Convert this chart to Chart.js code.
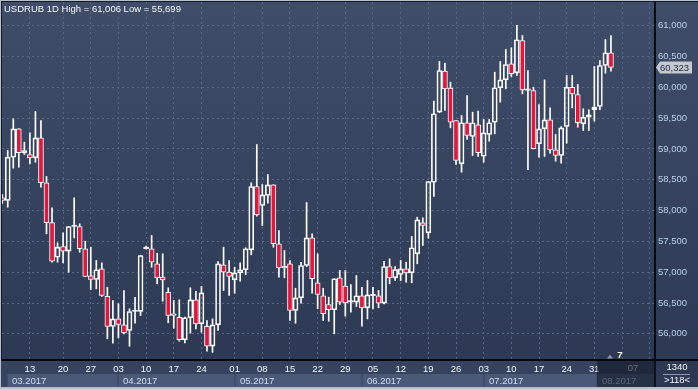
<!DOCTYPE html>
<html>
<head>
<meta charset="utf-8">
<script src="https://cdn.jsdelivr.net/npm/chart.js@4.4.1/dist/chart.umd.min.js"></script>
<style>
  html, body { margin: 0; padding: 0; background: #34415c; }
  #wrap { position: relative; width: 698px; height: 389px; }
</style>
</head>
<body>
<div id="wrap"><canvas id="usdrub" width="698" height="389"></canvas></div>
<script>
// USDRUB daily candles (one entry per trading day)
const opens = [
    58207, 58163, 58866, 59327, 58938, 58910, 58856, 59181, 58451, 57805,
    57243, 57417, 57341, 57741, 57741, 57380, 56941, 56881, 57055, 56610,
    56118, 56243, 56146, 56054, 56362, 56365, 57380, 57380, 57136, 56919,
    56675, 56297, 56269, 55903, 56260, 56552, 56162, 56123, 55799, 56146,
    57120, 57000, 56876, 56990, 57039, 57363, 58391, 58082, 58245, 58418,
    57461, 57071, 57136, 56378, 56584, 57109, 57558, 56828, 56617, 56476,
    56390, 56909, 56773, 56513, 56513, 56617, 56422, 56617, 56617, 56497,
    57092, 56909, 56962, 57055, 56990, 57298, 57802, 57639, 58460, 59597,
    60262, 59990, 59462, 58759, 59425, 59202, 59392, 58882, 59235, 59434,
    59993, 60122, 60382, 60236, 60760, 59950, 59949, 59084, 59327, 59473,
    58986, 58894, 59364, 60002, 59884, 59408, 59515, 59636, 59689, 60355,
    60561
];
const highs = [
    58261, 58975, 59489, 59330, 59110, 59262, 59608, 59462, 58553, 58045,
    57477, 57639, 57745, 58207, 57785, 57503, 57406, 57190, 57152, 56756,
    56540, 56487, 56703, 56406, 56594, 57275, 57425, 57595, 57308, 57298,
    56747, 56540, 56552, 56270, 56747, 56691, 56768, 56216, 56243, 57173,
    57406, 57190, 57081, 57152, 57396, 58451, 59072, 58423, 58585, 58420,
    57677, 57352, 57190, 56740, 57162, 58131, 57623, 57298, 56740, 56594,
    56895, 57027, 57027, 56800, 56946, 56756, 56865, 56756, 56703, 57178,
    57217, 57092, 57190, 57162, 57579, 57892, 57883, 58475, 59775, 60419,
    60392, 60084, 59465, 59543, 59868, 59597, 59613, 59478, 59478, 60246,
    60419, 60614, 60642, 61006, 60841, 60273, 60002, 59722, 60122, 59668,
    59235, 59364, 60192, 60192, 60046, 59652, 59636, 60338, 60436, 60776,
    60841
];
const lows = [
    58115, 58055, 58688, 58704, 58910, 58759, 58785, 58379, 57623, 57162,
    57162, 57152, 57000, 57558, 57324, 56925, 56719, 56730, 56605, 55919,
    55847, 55935, 56000, 55799, 56172, 56297, 57375, 57081, 56812, 56529,
    56179, 56091, 55880, 55854, 56010, 56081, 56026, 55718, 55699, 56054,
    56703, 56622, 56659, 56854, 56962, 57282, 57909, 57758, 58120, 57406,
    56919, 56909, 56216, 56172, 56497, 57092, 56659, 56406, 56216, 56204,
    56000, 56476, 56286, 56351, 56443, 56123, 56243, 56406, 56422, 56487,
    56812, 56865, 56865, 56837, 56828, 57136, 57433, 57552, 58228, 59590,
    59624, 59343, 58748, 58623, 59154, 58894, 58878, 58785, 59126, 59246,
    59759, 59976, 60176, 60192, 59895, 58662, 59000, 58866, 58878, 58931,
    58801, 58769, 59093, 59668, 59353, 59300, 59300, 59450, 59636, 60230,
    60262
];
const closes = [
    58163, 58866, 59327, 58938, 58975, 58856, 59181, 58451, 57802, 57178,
    57406, 57341, 57741, 57745, 57380, 56930, 56881, 57039, 56622, 56118,
    56243, 56151, 56016, 56362, 56370, 57271, 57406, 57162, 56909, 56876,
    56297, 56325, 55903, 56260, 56552, 56162, 56665, 55799, 56146, 57136,
    57000, 56930, 56990, 57039, 57380, 58391, 57931, 58256, 58418, 57461,
    57071, 57087, 56378, 56584, 57109, 57558, 56893, 56638, 56325, 56390,
    56893, 56513, 56503, 56518, 56617, 56422, 56633, 56633, 56497, 57092,
    56909, 57044, 57055, 56990, 57396, 57850, 57758, 58472, 59571, 60273,
    59976, 59434, 58813, 59425, 59218, 59425, 58938, 59262, 59425, 59993,
    60122, 60371, 60220, 60772, 59960, 59960, 59003, 59327, 59473, 58986,
    58894, 59343, 60002, 59895, 59425, 59515, 59554, 59678, 60355, 60561,
    60323
];

// x axis: 118 day slots visible, weekly grid on Mondays
const slotCount = 118;
const gridIdx = [5, 11, 16, 21, 26, 31, 36, 42, 47, 52, 57, 62, 67, 72, 77, 82, 87, 92, 97, 102, 107, 112, 117];
const dayLabels = ['13', '20', '27', '03', '10', '17', '24', '01', '08', '15', '22', '29', '05', '12', '19', '26', '03', '10', '17', '24', '31', '', ''];
const monthStarts = [0.9, 21, 42, 65, 87, 107.5];
const monthLabels = ['03.2017', '04.2017', '05.2017', '06.2017', '07.2017', '08.2017'];

// y axis
const yMin = 55575;
const yMax = 61385;
const yTicks = [56000, 56500, 57000, 57500, 58000, 58500, 59000, 59500, 60000, 60500, 61000];

const FONT = 'Liberation Sans, Arial, sans-serif';
const FSIZE = 9.5;
const RED = '#e3173e';
const GRID = '#56678a';

const fmt = (v) => v.toLocaleString('en-US');

const bodies = opens.map((o, i) => ({ x: i, y: [o, closes[i]] }));
const upperWicks = opens.map((o, i) => ({ x: i, y: [Math.max(o, closes[i]), highs[i]] }));
const lowerWicks = opens.map((o, i) => ({ x: i, y: [lows[i], Math.min(o, closes[i])] }));
const bodyFill = opens.map((o, i) => closes[i] < o ? RED : 'rgba(0,0,0,0)');

const terminalPlugin = {
    id: 'terminal',
    beforeDraw(chart) {
        const { ctx, width, height, chartArea: a } = chart;
        const g = ctx.createLinearGradient(0, 0, 0, height);
        g.addColorStop(0, '#3f4d69');
        g.addColorStop(1, '#2c3852');
        ctx.save();
        ctx.fillStyle = g;
        ctx.fillRect(0, 0, width, height);
        ctx.fillStyle = '#36435e';
        ctx.fillRect(0, a.bottom, a.right, height - a.bottom);
        ctx.restore();
    },
    afterDraw(chart) {
        const { ctx, width, height, chartArea: a } = chart;
        const xs = chart.scales.x;
        const ys = chart.scales.y;
        ctx.save();
        ctx.font = `${FSIZE}px ${FONT}`;
        ctx.textBaseline = 'middle';

        // month boxes
        monthStarts.forEach((m, k) => {
            const x0 = Math.round(xs.getPixelForValue(m)) + 0.5;
            const x1 = k < monthStarts.length - 1 ? Math.round(xs.getPixelForValue(monthStarts[k + 1])) - 0.5 : a.right;
            ctx.fillStyle = '#4a5977';
            ctx.fillRect(x0, 374, x1 - x0, 13);
            ctx.fillStyle = '#d3dff0';
            ctx.textAlign = 'left';
            ctx.fillText(monthLabels[k], x0 + 4.5, 381);
        });

        // next week label, sits in the shaded future area
        ctx.fillStyle = '#f2f6fb';
        ctx.textAlign = 'center';
        ctx.fillText('07', xs.getPixelForValue(114), 368.5);

        // shaded future area in the time strip
        const fx = xs.getPixelForValue(107.5);
        ctx.fillStyle = 'rgba(18, 24, 40, 0.62)';
        ctx.fillRect(fx, a.bottom + 1, a.right - fx, height - a.bottom - 1);

        // bar-count marker
        ctx.fillStyle = '#8c97aa';
        ctx.beginPath();
        ctx.moveTo(607, 358.5); ctx.lineTo(613, 358.5); ctx.lineTo(610, 354.5);
        ctx.closePath(); ctx.fill();
        ctx.fillStyle = '#ffffff';
        ctx.font = `bold ${FSIZE}px ${FONT}`;
        ctx.fillText('7', 620, 355);
        ctx.font = `${FSIZE}px ${FONT}`;

        // black separators across the whole width
        ctx.strokeStyle = '#05070c';
        ctx.lineWidth = 2;
        ctx.beginPath(); ctx.moveTo(0, a.bottom); ctx.lineTo(width, a.bottom); ctx.stroke();
        ctx.lineWidth = 1.5;
        ctx.beginPath(); ctx.moveTo(a.right, a.top); ctx.lineTo(a.right, height); ctx.stroke();

        // corner box
        ctx.fillStyle = '#f2f6fb';
        ctx.textAlign = 'center';
        ctx.fillText('1340', 677, 367.5);
        ctx.fillText('>118<', 677, 380.5);
        ctx.strokeStyle = '#8a97ad';
        ctx.lineWidth = 1;
        ctx.beginPath(); ctx.moveTo(663, 374.5); ctx.lineTo(690, 374.5); ctx.stroke();

        // last price tag
        const last = closes[closes.length - 1];
        const py = Math.round(ys.getPixelForValue(last)) + 0.5;
        ctx.fillStyle = '#c6cad0';
        ctx.beginPath();
        ctx.moveTo(656, py);
        ctx.lineTo(660, py - 6);
        ctx.lineTo(692, py - 6);
        ctx.lineTo(692, py + 6);
        ctx.lineTo(660, py + 6);
        ctx.closePath();
        ctx.fill();
        ctx.fillStyle = '#1c2840';
        ctx.textAlign = 'left';
        ctx.fillText(fmt(last), 660, py + 0.5);

        // title
        ctx.fillStyle = '#f6f8fb';
        ctx.textBaseline = 'alphabetic';
        ctx.fillText(`USDRUB 1D High = ${fmt(Math.max(...highs))} Low = ${fmt(Math.min(...lows))}`, 4, 11.5);

        // window frame
        ctx.fillStyle = '#b7bfcc';
        ctx.fillRect(0, 0, width, 1);
        ctx.fillRect(0, 0, 1, height);
        ctx.fillRect(0, height - 2, width, 2);
        ctx.fillStyle = '#141a28';
        ctx.fillRect(1, 1, width - 1, 1);
        ctx.fillRect(1, 1, 1, a.bottom);
        ctx.restore();
    }
};

new Chart(document.getElementById('usdrub'), {
    type: 'bar',
    data: {
        datasets: [
            {
                data: bodies,
                backgroundColor: bodyFill,
                borderColor: '#ffffff',
                borderWidth: 1,
                borderSkipped: false,
                barThickness: 5,
                minBarLength: 1.5,
                grouped: false,
                order: 0
            },
            {
                data: upperWicks,
                backgroundColor: '#ffffff',
                borderWidth: 0,
                barThickness: 1,
                grouped: false,
                order: 1
            },
            {
                data: lowerWicks,
                backgroundColor: '#ffffff',
                borderWidth: 0,
                barThickness: 1,
                grouped: false,
                order: 1
            }
        ]
    },
    options: {
        responsive: false,
        animation: false,
        layout: { padding: { left: 2, top: 2, right: 0, bottom: 0 } },
        plugins: {
            legend: { display: false },
            tooltip: { enabled: false }
        },
        scales: {
            x: {
                type: 'linear',
                offset: false,
                min: -0.04,
                max: slotCount - 0.04,
                afterBuildTicks: (scale) => {
                    scale.ticks = gridIdx.map(v => ({ value: v }));
                },
                afterFit: (scale) => {
                    scale.height = 29;
                    scale.paddingLeft = 0;
                    scale.paddingRight = 0;
                },
                grid: { color: GRID, lineWidth: 1, drawTicks: false, offset: false },
                border: { display: true, color: '#05070c', width: 2, dash: [2, 3] },
                ticks: {
                    autoSkip: false,
                    maxRotation: 0,
                    padding: 4,
                    color: '#f2f6fb',
                    font: { family: FONT, size: FSIZE },
                    callback: (v) => {
                        const k = gridIdx.indexOf(v);
                        return k >= 0 ? dayLabels[k] : '';
                    }
                }
            },
            y: {
                position: 'right',
                min: yMin,
                max: yMax,
                afterBuildTicks: (scale) => {
                    scale.ticks = yTicks.map(v => ({ value: v }));
                },
                afterFit: (scale) => {
                    scale.width = 43;
                    scale.paddingTop = 0;
                    scale.paddingBottom = 0;
                },
                grid: { color: GRID, lineWidth: 1, drawTicks: false },
                border: { display: true, color: '#05070c', width: 1.5, dash: [2, 3] },
                ticks: {
                    padding: 3,
                    color: '#b8d0ec',
                    font: { family: FONT, size: FSIZE },
                    callback: (v) => fmt(v)
                }
            }
        }
    },
    plugins: [terminalPlugin]
});
</script>
</body>
</html>
